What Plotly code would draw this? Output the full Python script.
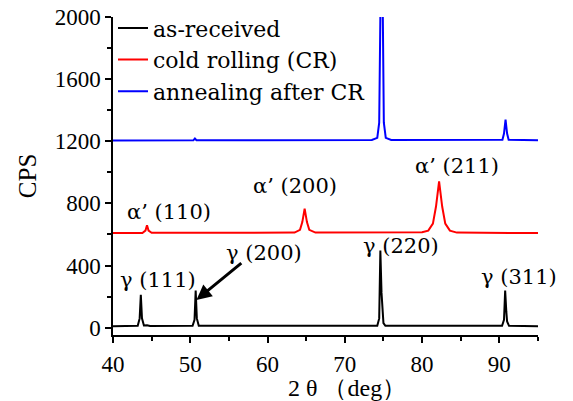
import plotly.graph_objects as go

# ---- data ----
black_x = [40, 43.2, 43.45, 43.6, 43.75, 44.0, 44.4, 44.8, 50.3, 50.55, 50.7, 50.85, 51.1,
           74.2, 74.45, 74.6, 74.75, 74.85, 75.0, 75.25, 90.35, 90.6, 90.75, 90.9, 91.0, 91.25, 95]
black_y = [10, 12, 60, 211, 60, 14, 16, 11, 12, 50, 239, 60, 12,
           12, 60, 497, 224, 150, 30, 12, 12, 50, 239, 103, 40, 12, 10]

red_x = [40, 43.8, 44.2, 44.4, 44.6, 45.0, 63.5, 64.2, 64.5, 64.8, 65.1, 65.4, 66.2,
         80.0, 80.8, 81.4, 81.8, 82.2, 82.6, 83.0, 83.6, 84.5, 95]
red_y = [609, 610, 625, 660, 625, 611, 612, 630, 680, 766, 680, 630, 612,
         614, 625, 670, 780, 942, 780, 670, 625, 612, 609]

blue_x = [40, 50.4, 50.6, 50.8, 73.5, 74.2, 74.45, 74.62, 74.9, 75.05, 75.3, 76.0,
          90.4, 90.6, 90.8, 91.0, 91.2, 95]
blue_y = [1205, 1206, 1218, 1207, 1208, 1222, 1320, 2100, 2100, 1320, 1222, 1208,
          1210, 1250, 1340, 1250, 1210, 1207]

series_names = ["as-received", "cold rolling (CR)", "annealing after CR"]
series_colors = ["#000000", "#ff0000", "#0000ff"]

peak_labels = ["γ (111)", "γ (220)", "γ (311)", "α’ (110)", "α’ (200)", "α’ (211)"]
peak_label_x = [45.8, 77.3, 92.6, 47.2, 63.5, 84.5]
peak_label_y = [308, 523, 329, 748, 914, 1039]

arrow_label = "γ (200)"
arrow_label_xy = (59.6, 482)
arrow_tail = (56.8, 424)
arrow_tip = (50.8, 179)

x_ticks = [40, 50, 60, 70, 80, 90]
y_ticks = [0, 400, 800, 1200, 1600, 2000]

x_title = "2 θ （deg）"
y_title = "CPS"

lab = "DejaVu Serif"
serif = "Liberation Serif"

fig = go.Figure()
for xs, ys, name, col in zip([black_x, red_x, blue_x], [black_y, red_y, blue_y],
                             series_names, series_colors):
    fig.add_trace(go.Scatter(x=xs, y=ys, mode="lines", name=name,
                             line=dict(color=col, width=2)))

for t, x, y in zip(peak_labels, peak_label_x, peak_label_y):
    fig.add_annotation(x=x, y=y, text=t, showarrow=False, xref="x", yref="y",
                       font=dict(family=lab, size=21, color="black"))

fig.add_annotation(x=arrow_label_xy[0], y=arrow_label_xy[1], text=arrow_label, showarrow=False,
                   font=dict(family=lab, size=21, color="black"))
fig.add_annotation(x=arrow_tip[0], y=arrow_tip[1], ax=arrow_tail[0], ay=arrow_tail[1],
                   xref="x", yref="y", axref="x", ayref="y", text="", showarrow=True,
                   arrowhead=2, arrowsize=1, arrowwidth=3, arrowcolor="black")

# axis titles
fig.add_annotation(x=0.55, y=-0.167, xref="paper", yref="paper", text=x_title, showarrow=False,
                   xanchor="center", yanchor="middle",
                   font=dict(family=serif, size=24, color="black"))
fig.add_annotation(x=-0.202, y=0.5, xref="paper", yref="paper", text=y_title, showarrow=False,
                   xanchor="center", yanchor="middle", textangle=-90,
                   font=dict(family=serif, size=25, color="black"))

# page body has an 8px margin, so the figure is sized/margined to compensate
fig.update_layout(
    width=565, height=393,
    margin=dict(l=105, r=35, t=9, b=66, autoexpand=False),
    paper_bgcolor="white", plot_bgcolor="white",
    showlegend=True,
    legend=dict(x=0.0, y=1.031, xanchor="left", yanchor="top", bgcolor="rgba(0,0,0,0)",
                font=dict(family=lab, size=22, color="black"), tracegroupgap=0,
                itemwidth=30),
)
fig.update_xaxes(range=[40, 95], tickvals=x_ticks, ticks="outside", ticklen=6, tickwidth=1.5,
                 showline=True, linecolor="black", linewidth=1.5, showgrid=False, zeroline=False,
                 automargin=False, ticklabelstandoff=2, ticklabeloverflow="allow",
                 minor=dict(dtick=5, ticks="outside", ticklen=4, tickwidth=1.5, tickcolor="black"),
                 tickcolor="black", tickfont=dict(family=serif, size=23, color="black"))
fig.update_yaxes(range=[-47, 2000], tickvals=y_ticks, ticks="outside", ticklen=6, tickwidth=1.5,
                 showline=True, linecolor="black", linewidth=1.5, showgrid=False, zeroline=False,
                 automargin=False, ticklabeloverflow="allow",
                 minor=dict(dtick=200, ticks="outside", ticklen=4, tickwidth=1.5, tickcolor="black"),
                 tickcolor="black", tickfont=dict(family=serif, size=23, color="black"))

fig.write_html("out.html")
